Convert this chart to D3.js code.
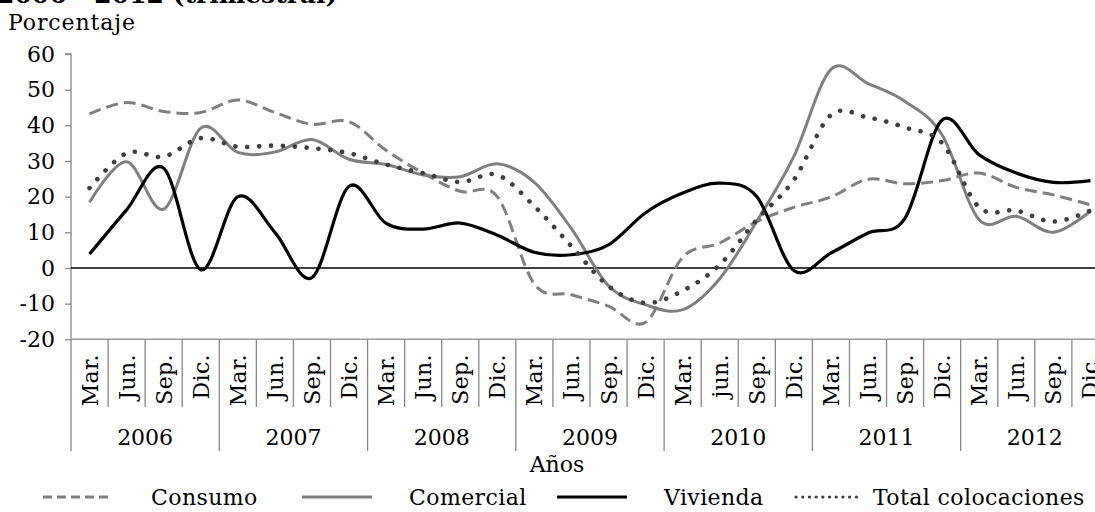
<!DOCTYPE html>
<html>
<head>
<meta charset="utf-8">
<script src="https://cdn.jsdelivr.net/npm/d3@7"></script>
<style>
html,body{margin:0;padding:0;background:#fff;overflow:hidden;}
svg{display:block;}
text{font-family:"DejaVu Serif",serif;fill:#000;}
</style>
</head>
<body>
<svg id="chart" width="1095" height="512"></svg>
<script>
const years = ["2006","2007","2008","2009","2010","2011","2012"];
const months = ["Mar.","Jun.","Sep.","Dic."];
const monthLabels2010 = ["Mar.","jun.","Sep.","Dic."];
const yTicks = [-20,-10,0,10,20,30,40,50,60];

const consumo   = [43.2,46.4,43.9,43.6,47.1,43.6,40.3,41.0,33.0,26.6,21.5,20.0,-4.5,-7.5,-10.7,-15.2,3.0,7.0,13.0,17.0,19.9,24.9,23.6,24.5,26.6,22.6,20.5,17.7];
const comercial = [18.4,29.8,16.5,39.2,32.4,32.5,36.0,30.5,29.0,26.1,25.6,29.2,24.0,11.0,-5.0,-10.3,-11.7,-3.0,13.1,31.3,55.7,51.7,46.7,37.3,13.5,14.5,10.0,15.9];
const vivienda  = [3.9,16.3,28.0,-0.5,20.0,10.0,-2.7,22.9,12.5,10.9,12.6,9.2,4.4,3.7,6.5,15.5,21.0,23.8,20.0,-0.7,4.2,9.8,14.0,41.5,31.7,26.6,24.0,24.5];
const total     = [22.4,32.2,31.2,36.4,34.0,34.3,33.6,32.2,29.0,26.6,24.1,26.1,17.3,6.1,-5.1,-9.8,-6.4,0.9,13.5,24.7,42.9,42.2,39.4,35.0,17.0,16.1,13.0,16.1];

const seriesNames = ["Consumo","Comercial","Vivienda","Total colocaciones"];

(function(){
const cats = [];
years.forEach(yr => {
  const ml = yr === "2010" ? monthLabels2010 : months;
  ml.forEach(m => cats.push({key: yr + "-" + m, year: yr, month: m}));
});

const svg = d3.select("#chart");
const L = 71, bw = 37.07, R = L + bw * cats.length;
const T = 54, B = 339.3;
const FS = "22px";

const x = d3.scaleBand().domain(cats.map(c => c.key)).range([L, R]).paddingInner(0).paddingOuter(0);
const y = d3.scaleLinear().domain([-20, 60]).range([B, T]);
const cx = i => x(cats[i].key) + x.bandwidth() / 2;

svg.append("text").attr("x", -3).attr("y", 3).style("font-weight", "bold").style("font-size", "25px")
  .text("2006 - 2012 (trimestral)");

svg.append("text").attr("x", 8).attr("y", 30).style("font-size", FS).style("letter-spacing", "0.9px")
  .text("Porcentaje");

const yAxis = d3.axisLeft(y).tickValues(yTicks).tickSize(6).tickPadding(10).tickFormat(d => String(d));
const ga = svg.append("g").attr("transform", `translate(${L},0)`).call(yAxis);
ga.select(".domain").attr("stroke", "#868686").attr("stroke-width", 1.3).attr("d", `M-6,${y(60)}H0V${y(-20)}`);
ga.selectAll(".tick line").attr("stroke", "#868686").attr("stroke-width", 1.3);
ga.selectAll(".tick text").style("font-family", '"DejaVu Serif",serif').style("font-size", FS)
  .attr("fill", "#000");

svg.append("line").attr("x1", L).attr("x2", R).attr("y1", B).attr("y2", B)
  .attr("stroke", "#9a9a9a").attr("stroke-width", 1.5);

const seps = d3.range(cats.length + 1);
svg.append("g").selectAll("line").data(seps).join("line")
  .attr("x1", i => L + i * x.bandwidth()).attr("x2", i => L + i * x.bandwidth())
  .attr("y1", B).attr("y2", i => i % 4 === 0 ? 451 : 407)
  .attr("stroke", "#868686").attr("stroke-width", 1.3);

svg.append("g").selectAll("text").data(cats).join("text")
  .attr("transform", (d, i) => `translate(${cx(i) + 8},354) rotate(-90)`)
  .attr("text-anchor", "end").style("font-size", FS).style("letter-spacing", "0.4px")
  .text(d => d.month);

svg.append("g").selectAll("text").data(years).join("text")
  .attr("x", (d, i) => L + (i * 4 + 2) * x.bandwidth()).attr("y", 445)
  .attr("text-anchor", "middle").style("font-size", FS)
  .text(d => d);

svg.append("text").attr("x", 557).attr("y", 472).attr("text-anchor", "middle")
  .style("font-size", FS).text("Años");

svg.append("line").attr("x1", L).attr("x2", R).attr("y1", y(0)).attr("y2", y(0))
  .attr("stroke", "#000").attr("stroke-width", 1.5);

const styles = [
  {data: consumo,   color: "#7f7f7f", width: 3, dash: "12,6", cap: "butt"},
  {data: comercial, color: "#7f7f7f", width: 3, dash: null, cap: "butt"},
  {data: vivienda,  color: "#000000", width: 3.2, dash: null, cap: "butt"},
  {data: total,     color: "#3f3f3f", width: 4.6, dash: "0.1,11.8", cap: "round"}
];

const line = d3.line().x((d, i) => cx(i)).y(d => y(d)).curve(d3.curveCardinal.tension(0));

styles.forEach(s => {
  svg.append("path").datum(s.data).attr("d", line).attr("fill", "none")
    .attr("stroke", s.color).attr("stroke-width", s.width)
    .attr("stroke-dasharray", s.dash).attr("stroke-linecap", s.cap).attr("stroke-linejoin", "round");
});

const legend = [
  {x1: 43, x2: 113, tx: 151, s: styles[0], name: seriesNames[0], dash: "9,5"},
  {x1: 302, x2: 372, tx: 409, s: styles[1], name: seriesNames[1], dash: null},
  {x1: 557, x2: 627, tx: 664, s: styles[2], name: seriesNames[2], dash: null},
  {x1: 796, x2: 862, tx: 873, s: styles[3], name: seriesNames[3], dash: "0.1,6.6"}
];
const lg = svg.append("g").selectAll("g").data(legend).join("g");
lg.append("line").attr("x1", d => d.x1).attr("x2", d => d.x2).attr("y1", 497).attr("y2", 497)
  .attr("stroke", d => d.s.color).attr("stroke-width", d => d.s.cap === "round" ? 3.2 : d.s.width)
  .attr("stroke-dasharray", d => d.dash).attr("stroke-linecap", d => d.s.cap);
lg.append("text").attr("x", d => d.tx).attr("y", 505).style("font-size", FS).style("letter-spacing", "0.4px")
  .text(d => d.name);
})();
</script>
</body>
</html>
